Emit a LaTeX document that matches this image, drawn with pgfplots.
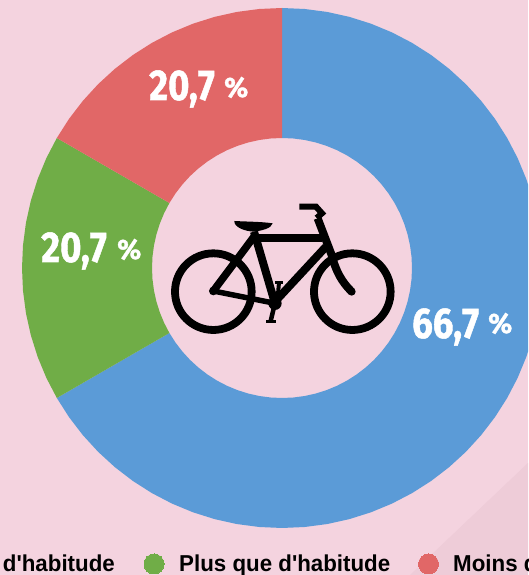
\documentclass[border=0pt]{standalone}
\usepackage{pgfplots}
\pgfplotsset{compat=1.18}
\usepgfplotslibrary{polar}
\usepackage{fontspec}
\setmainfont{Liberation Sans}
\newfontfamily\legfont{Liberation Sans Bold}
\newfontfamily\labfont{Fira Sans}[UprightFont=*-Bold,FakeBold=1.2]
\definecolor{bgp}{HTML}{F4D3DF}
\definecolor{bgd}{HTML}{EECCD8}
\definecolor{cblue}{HTML}{5B9BD7}
\definecolor{cgreen}{HTML}{70AD47}
\definecolor{cred}{HTML}{E16767}
\newcommand{\numlab}[3]{\node[anchor=base west,inner sep=0pt,text=white] at (#1,#2) {\labfont\fontsize{43}{43}\selectfont\scalebox{0.85}[1]{#3}};}
\newcommand{\pctlab}[2]{\node[anchor=base west,inner sep=0pt,text=white] at (#1,#2) {\labfont\fontsize{28}{28}\selectfont\scalebox{1.0}[1]{\%}};}
\newcommand{\leglab}[3]{\node[anchor=base #1,inner sep=0pt,text=black] at (#2,571) {\legfont\fontsize{23}{23}\selectfont\scalebox{0.97}[1]{#3}};}
\begin{document}
\begin{tikzpicture}
\path[use as bounding box,clip] (0,0) rectangle (528pt,575pt);
\begin{axis}[at={(0,0)},anchor=south west,scale only axis,width=528pt,height=575pt,hide axis,
 xmin=-282,xmax=246,ymin=-307,ymax=268,clip=true]
\addplot[fill=bgp,draw=none] coordinates {(-282,-307) (246,-307) (246,268) (-282,268)} --cycle;
\addplot[fill=bgd,draw=none] coordinates {(128,-307) (246,-307) (246,-195)} --cycle;
% blue 66.7 %
\addplot[data cs=polar,fill=cblue,draw=none] coordinates {
(90,260)(85,260)(80,260)(75,260)(70,260)(65,260)(60,260)(55,260)(50,260)(45,260)(40,260)(35,260)(30,260)(25,260)(20,260)(15,260)(10,260)(5,260)(0,260)
(-5,260)(-10,260)(-15,260)(-20,260)(-25,260)(-30,260)(-35,260)(-40,260)(-45,260)(-50,260)(-55,260)(-60,260)(-65,260)(-70,260)(-75,260)(-80,260)(-85,260)(-90,260)
(-95,260)(-100,260)(-105,260)(-110,260)(-115,260)(-120,260)(-125,260)(-130,260)(-135,260)(-140,260)(-145,260)(-150,260)
(-150,130)(-145,130)(-140,130)(-135,130)(-130,130)(-125,130)(-120,130)(-115,130)(-110,130)(-105,130)(-100,130)(-95,130)(-90,130)
(-85,130)(-80,130)(-75,130)(-70,130)(-65,130)(-60,130)(-55,130)(-50,130)(-45,130)(-40,130)(-35,130)(-30,130)(-25,130)(-20,130)(-15,130)(-10,130)(-5,130)(0,130)
(5,130)(10,130)(15,130)(20,130)(25,130)(30,130)(35,130)(40,130)(45,130)(50,130)(55,130)(60,130)(65,130)(70,130)(75,130)(80,130)(85,130)(90,130)
} --cycle;
% green
\addplot[data cs=polar,fill=cgreen,draw=none] coordinates {
(210,260)(205,260)(200,260)(195,260)(190,260)(185,260)(180,260)(175,260)(170,260)(165,260)(160,260)(155,260)(150,260)
(150,130)(155,130)(160,130)(165,130)(170,130)(175,130)(180,130)(185,130)(190,130)(195,130)(200,130)(205,130)(210,130)
} --cycle;
% red
\addplot[data cs=polar,fill=cred,draw=none] coordinates {
(150,260)(145,260)(140,260)(135,260)(130,260)(125,260)(120,260)(115,260)(110,260)(105,260)(100,260)(95,260)(90,260)
(90,130)(95,130)(100,130)(105,130)(110,130)(115,130)(120,130)(125,130)(130,130)(135,130)(140,130)(145,130)(150,130)
} --cycle;
% legend markers
\addplot[only marks,mark=*,mark size=10pt,cgreen,mark options={draw=cgreen,fill=cgreen,line width=0pt}] coordinates {(-128,-296)};
\addplot[only marks,mark=*,mark size=10pt,cred,mark options={draw=cred,fill=cred,line width=0pt}] coordinates {(146.5,-296)};
\end{axis}
% texts, pixel coordinates
\begin{scope}[shift={(0,575pt)},x=1pt,y=-1pt]
\numlab{412}{338}{66,7}\pctlab{488}{333}
\numlab{149}{100}{20,7}\pctlab{224}{97}
\numlab{41}{262}{20,7}\pctlab{117}{259}
\leglab{east}{115}{d'habitude}
\leglab{west}{179}{Plus que d'habitude}
\leglab{west}{453}{Moins d'habitude}
\end{scope}
% bicycle icon, 3x zoom coordinates
\begin{scope}[shift={(150pt,385pt)},x=0.3333pt,y=-0.3333pt]
\draw[line width=7.8pt] (190,305) circle[radius=115];
\draw[line width=7.8pt] (607,305) circle[radius=115];
\draw[line width=8pt] (312,125)--(375,340);
\draw[line width=8pt] (305,143)--(515,143);
\draw[line width=8pt] (528,170)--(375,335);
\draw[line width=7.5pt] (312,140)--(190,303);
\draw[line width=5.5pt] (190,303)--(375,340);
\draw[line width=8pt,line join=miter] (503,85)--(545,195) .. controls (558,245) and (575,275) .. (605,305);
\draw[line width=6pt] (448,50)--(498,50)--(516,70)--(500,84);
\fill (253,93) .. controls (290,95) and (335,95) .. (368,100) .. controls (365,115) and (335,122) .. (312,125) .. controls (285,124) and (252,112) .. cycle;
\fill (190,303) circle[radius=13];
\fill (605,305) circle[radius=12];
\fill (375,340) circle[radius=20];
\draw[line width=4.5pt] (375,340)--(362,393);
\draw[line width=3pt] (349,394)--(377,394);
\draw[line width=4pt] (382,335)--(387,278);
\draw[line width=3pt] (375,278)--(400,278);
\end{scope}
\end{tikzpicture}
\end{document}
